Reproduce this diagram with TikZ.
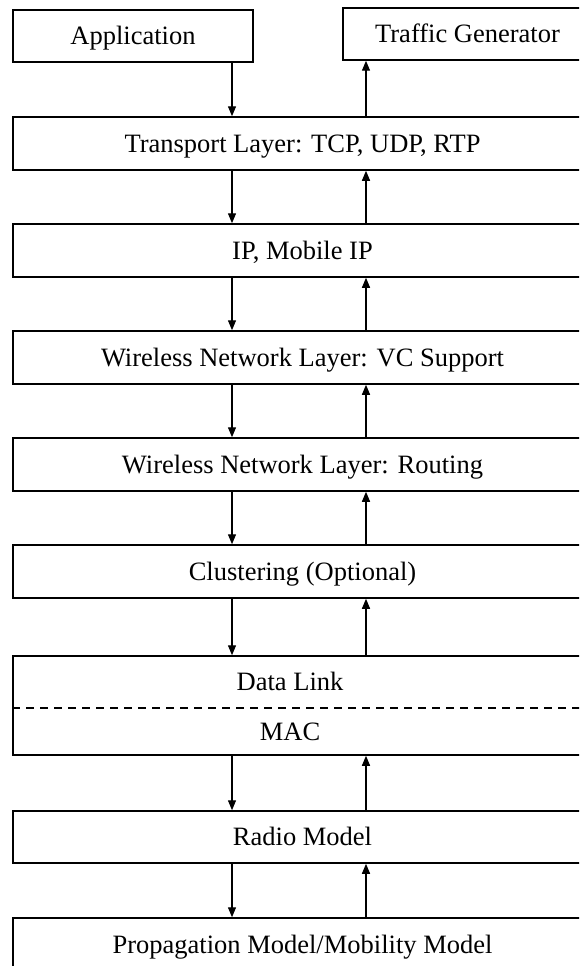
\documentclass[tikz,border=0pt]{standalone}
\usepackage{fontspec}
\setmainfont{Liberation Serif}
\usetikzlibrary{arrows.meta}
\begin{document}
\begin{tikzpicture}[x=1pt,y=-1pt,
  layerbox/.style={draw=black,line width=1.5pt,rectangle,inner sep=0pt,
    font=\fontsize{26.5}{30}\selectfont,text height=17.5pt,text depth=0pt},
  lbl/.style={inner sep=0pt,font=\fontsize{26.5}{30}\selectfont,text height=17.5pt,text depth=0pt},
  arr/.style={line width=1.3pt,-{Triangle[length=10pt,width=8pt]}}]
\useasboundingbox (0,0) rectangle (579,966);
\clip (0,0) rectangle (579,966);
\fill[white] (0,0) rectangle (579,966);
\coordinate (dx) at (232,0);
\coordinate (ux) at (366,0);
\node[layerbox,minimum width=240pt,minimum height=52pt] (app) at (133,36) {Application};
\node[layerbox,minimum width=249pt,minimum height=52pt] (tg) at (467.5,34) {Traffic Generator};
\node[layerbox,minimum width=579pt,minimum height=53pt] (tr) at (302.5,143.5) {Transport Layer: TCP, UDP, RTP};
\node[layerbox,minimum width=579pt,minimum height=53pt] (ip) at (302.5,250.5) {IP, Mobile IP};
\node[layerbox,minimum width=579pt,minimum height=53pt] (vc) at (302.5,357.5) {Wireless Network Layer: VC Support};
\node[layerbox,minimum width=579pt,minimum height=53pt] (rt) at (302.5,464.5) {Wireless Network Layer: Routing};
\node[layerbox,minimum width=579pt,minimum height=53pt] (cl) at (302.5,571.5) {Clustering (Optional)};
\node[layerbox,minimum width=579pt,minimum height=99pt] (dlm) at (302.5,705.5) {};
\node[lbl] (dl) at (290,682) {Data Link};
\node[lbl] (mac) at (290,731.5) {MAC};
\coordinate (dashy) at (0,708);
\draw[line width=1.3pt,dash pattern=on 7.5pt off 6.5pt] (dlm.west |- dashy) -- (dlm.east |- dashy);
\node[layerbox,minimum width=579pt,minimum height=52pt] (rm) at (302.5,837) {Radio Model};
\node[layerbox,minimum width=579pt,minimum height=53pt] (pm) at (302.5,944.5) {Propagation Model/Mobility Model};
% arrows
\draw[arr] (app.south -| dx) -- (tr.north -| dx);
\draw[arr] (tr.north -| ux) -- (tg.south -| ux);
\foreach \a/\b in {tr/ip,ip/vc,vc/rt,rt/cl,cl/dlm,dlm/rm,rm/pm}{
  \draw[arr] (\a.south -| dx) -- (\b.north -| dx);
  \draw[arr] (\b.north -| ux) -- (\a.south -| ux);
}
\end{tikzpicture}
\end{document}
